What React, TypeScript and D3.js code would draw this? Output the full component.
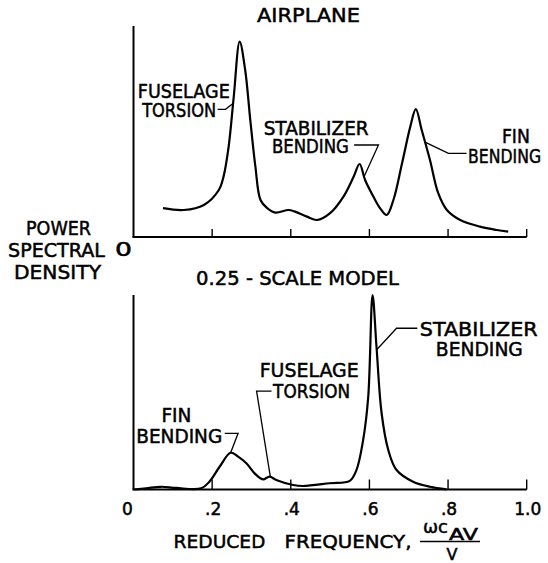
import React from "react";
import * as d3 from "d3";

const WIDTH = 548;
const HEIGHT = 563;
const FONT = "'DejaVu Sans', sans-serif";

// x ticks shared by both panels
const tickValues = [0, 0.2, 0.4, 0.6, 0.8, 1.0];
const tickLabels = ["0", ".2", ".4", ".6", ".8", "1.0"];

// airplane spectrum (reduced frequency vs relative PSD)
const airplaneFreq = [
  0.075, 0.128, 0.179, 0.217, 0.229, 0.242, 0.255, 0.27, 0.284, 0.297, 0.31,
  0.323, 0.34, 0.361, 0.394, 0.411, 0.441, 0.467, 0.5, 0.534, 0.56, 0.575,
  0.589, 0.61, 0.627, 0.644, 0.661, 0.683, 0.704, 0.718, 0.733, 0.754, 0.775,
  0.797, 0.831, 0.881, 0.924, 0.953,
];
const airplanePsd = [
  0.144, 0.135, 0.16, 0.235, 0.302, 0.452, 0.702, 0.977, 0.835, 0.585, 0.352,
  0.185, 0.144, 0.122, 0.135, 0.127, 0.102, 0.085, 0.119, 0.202, 0.302, 0.365,
  0.285, 0.202, 0.144, 0.11, 0.185, 0.369, 0.552, 0.639, 0.535, 0.385, 0.219,
  0.135, 0.085, 0.052, 0.035, 0.027,
];

// 0.25-scale model spectrum
const modelFreq = [
  0, 0.032, 0.07, 0.109, 0.172, 0.193, 0.219, 0.247, 0.266, 0.287, 0.308,
  0.329, 0.346, 0.363, 0.406, 0.431, 0.499, 0.55, 0.567, 0.584, 0.597, 0.608,
  0.618, 0.631, 0.648, 0.669, 0.711, 0.754, 0.796,
];
const modelPsd = [
  0, 0.006, 0.014, 0.008, 0.006, 0.04, 0.117, 0.189, 0.169, 0.135, 0.083,
  0.052, 0.066, 0.049, 0.023, 0.018, 0.032, 0.044, 0.1, 0.254, 0.477, 1.0,
  0.734, 0.392, 0.203, 0.1, 0.04, 0.014, 0.001,
];

// callouts: text rows [label, freq, psd, width] and leader points [freq, psd]
const airplaneNotes = [
  {
    rows: [["FUSELAGE", 0.011, 0.695, 92], ["TORSION", 0.022, 0.6025, 74]],
    leader: [[0.214, 0.6385], [0.234, 0.6385], [0.253, 0.668]],
  },
  {
    rows: [["STABILIZER", 0.331, 0.51, 105], ["BENDING", 0.352, 0.42, 77]],
    leader: [[0.561, 0.46], [0.623, 0.46], [0.586, 0.3]],
  },
  {
    rows: [["FIN", 0.937, 0.47, 28], ["BENDING", 0.851, 0.37, 73]],
    leader: [[0.847, 0.4185], [0.801, 0.4185], [0.74, 0.476]],
  },
];

const modelNotes = [
  {
    rows: [["STABILIZER", 0.728, 0.787, 118], ["BENDING", 0.769, 0.684, 87]],
    leader: [[0.619, 0.72], [0.669, 0.829], [0.722, 0.829]],
  },
  {
    rows: [["FUSELAGE", 0.321, 0.578, 99], ["TORSION", 0.355, 0.47, 77]],
    leader: [[0.351, 0.506], [0.313, 0.506], [0.348, 0.066]],
  },
  {
    rows: [["FIN", 0.071, 0.347, 30], ["BENDING", 0.007, 0.239, 86]],
    leader: [[0.232, 0.289], [0.266, 0.289], [0.247, 0.189]],
  },
];

const x = d3.scaleLinear().domain([0, 1]).range([133.5, 526.7]);
const yTop = d3.scaleLinear().domain([0, 1]).range([237, 37]);
const yBot = d3.scaleLinear().domain([0, 1]).range([489.5, 295]);

// lettering is heavier than the font's regular weight
const ink = { stroke: "#000", strokeWidth: 0.5 };

const Txt = ({ x, y, w, size = 19, anchor = "start", children }) => (
  <text
    x={x}
    y={y}
    fontSize={size}
    textAnchor={anchor}
    textLength={w}
    lengthAdjust="spacingAndGlyphs"
    {...ink}
  >
    {children}
  </text>
);

const Panel = ({ freq, psd, y, notes, axisTop, tickLen }) => {
  const pts = freq.map((f, i) => [f, psd[i]]);
  const curve = d3
    .line()
    .x((d) => x(d[0]))
    .y((d) => y(d[1]))
    .curve(d3.curveCatmullRom.alpha(0.5));
  const leader = d3
    .line()
    .x((d) => x(d[0]))
    .y((d) => y(d[1]));
  const y0 = y(0);
  return (
    <g>
      {/* axes */}
      <line x1={x(0)} x2={x(0)} y1={y(axisTop)} y2={y0} stroke="#000" strokeWidth={2} />
      <line x1={x(0) - 1} x2={x(1)} y1={y0} y2={y0} stroke="#000" strokeWidth={2} />
      {tickValues.slice(1).map((t) => (
        <line key={t} x1={x(t)} x2={x(t)} y1={y0} y2={y0 - tickLen} stroke="#000" strokeWidth={1.4} />
      ))}
      <path d={curve(pts)} fill="none" stroke="#000" strokeWidth={2.2} strokeLinejoin="round" />
      {notes.map((n, i) => (
        <g key={i}>
          <path d={leader(n.leader)} fill="none" stroke="#000" strokeWidth={1.3} />
          {n.rows.map(([label, f, v, w]) => (
            <Txt key={label} x={x(f)} y={y(v)} w={w}>
              {label}
            </Txt>
          ))}
        </g>
      ))}
    </g>
  );
};

export default function App() {
  return (
    <svg
      width={WIDTH}
      height={HEIGHT}
      style={{ position: "absolute", left: 0, top: 0, background: "#fff" }}
      fontFamily={FONT}
      fill="#000"
    >
      <rect width={WIDTH} height={HEIGHT} fill="#fff" />

      <Txt x={257} y={22} w={103} size={19}>AIRPLANE</Txt>
      <Panel freq={airplaneFreq} psd={airplanePsd} y={yTop} notes={airplaneNotes} axisTop={1.055} tickLen={8} />

      {/* shared y label */}
      <Txt x={26} y={235} w={65}>POWER</Txt>
      <Txt x={8} y={257} w={97}>SPECTRAL</Txt>
      <Txt x={115} y={256} w={17}>0</Txt>
      <Txt x={14} y={279} w={87}>DENSITY</Txt>

      <Txt x={196} y={285} w={203} size={19}>0.25 - SCALE MODEL</Txt>
      <Panel freq={modelFreq} psd={modelPsd} y={yBot} notes={modelNotes} axisTop={1} tickLen={10} />

      {/* x tick labels */}
      {tickValues.map((t, i) => (
        <text
          key={t}
          x={x(t) + (i === 0 ? -6 : 1)}
          y={515}
          fontSize={17}
          textAnchor="middle"
          {...ink}
        >
          {tickLabels[i]}
        </text>
      ))}

      {/* x axis title */}
      <Txt x={173.5} y={547.5} w={92} size={18}>REDUCED</Txt>
      <Txt x={284.5} y={547.5} w={127} size={18}>FREQUENCY,</Txt>
      <text x={423} y={533} fontSize={18} {...ink}>ωc</text>
      <text x={449} y={539.5} fontSize={15} textLength={29} lengthAdjust="spacingAndGlyphs" {...ink}>AV</text>
      <line x1={420} x2={480} y1={541.5} y2={541.5} stroke="#000" strokeWidth={1.6} />
      <text x={452} y={560} fontSize={16} textAnchor="middle" {...ink}>V</text>
    </svg>
  );
}
